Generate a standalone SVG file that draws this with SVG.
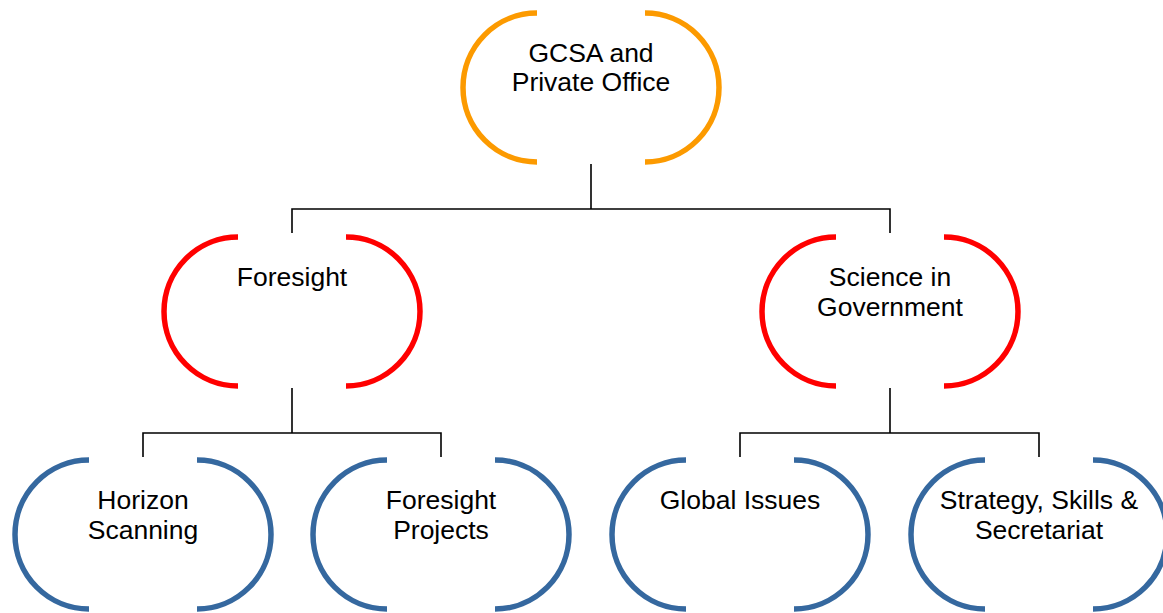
<svg xmlns="http://www.w3.org/2000/svg" width="1163" height="613" viewBox="0 0 1163 613">
<style>
.b{fill:none;stroke-width:5.5}
.o{stroke:#FC9A00}
.r{stroke:#FF0000}
.u{stroke:#35689F}
.t{font-family:"Liberation Sans",Arial,sans-serif;font-size:26.5px;fill:#000;text-anchor:middle}
.c{fill:none;stroke:#000;stroke-width:1.6}
</style>
<rect width="1163" height="613" fill="#fff"/>
<g id="connectors">
<path class="c" d="M591,164 V209 M292,233 V209 H890 V233"/>
<path class="c" d="M292,388 V433 M143,457 V433 H441 V457"/>
<path class="c" d="M890,388 V433 M740,457 V433 H1039 V457"/>
</g>
<g id="gcsa">
<path class="b o" d="M537,13 A74 74.5 0 0 0 537,162 M645,13 A74 74.5 0 0 1 645,162"/>
<text class="t" x="591" y="62">GCSA and</text>
<text class="t" x="591" y="91">Private Office</text>
</g>
<g id="foresight">
<path class="b r" d="M238,237 A74 74.5 0 0 0 238,386 M346,237 A74 74.5 0 0 1 346,386"/>
<text class="t" x="292" y="286">Foresight</text>
</g>
<g id="science">
<path class="b r" d="M836,237 A74 74.5 0 0 0 836,386 M944,237 A74 74.5 0 0 1 944,386"/>
<text class="t" x="890" y="286">Science in</text>
<text class="t" x="890" y="316">Government</text>
</g>
<g id="horizon">
<path class="b u" d="M89,460 A74 74.5 0 0 0 89,609 M197,460 A74 74.5 0 0 1 197,609"/>
<text class="t" x="143" y="509">Horizon</text>
<text class="t" x="143" y="539">Scanning</text>
</g>
<g id="projects">
<path class="b u" d="M387,460 A74 74.5 0 0 0 387,609 M495,460 A74 74.5 0 0 1 495,609"/>
<text class="t" x="441" y="509">Foresight</text>
<text class="t" x="441" y="539">Projects</text>
</g>
<g id="global">
<path class="b u" d="M686,460 A74 74.5 0 0 0 686,609 M794,460 A74 74.5 0 0 1 794,609"/>
<text class="t" x="740" y="509">Global Issues</text>
</g>
<g id="strategy">
<path class="b u" d="M985,460 A74 74.5 0 0 0 985,609 M1093,460 A74 74.5 0 0 1 1093,609"/>
<text class="t" x="1039" y="509">Strategy, Skills &amp;</text>
<text class="t" x="1039" y="539">Secretariat</text>
</g>
</svg>
